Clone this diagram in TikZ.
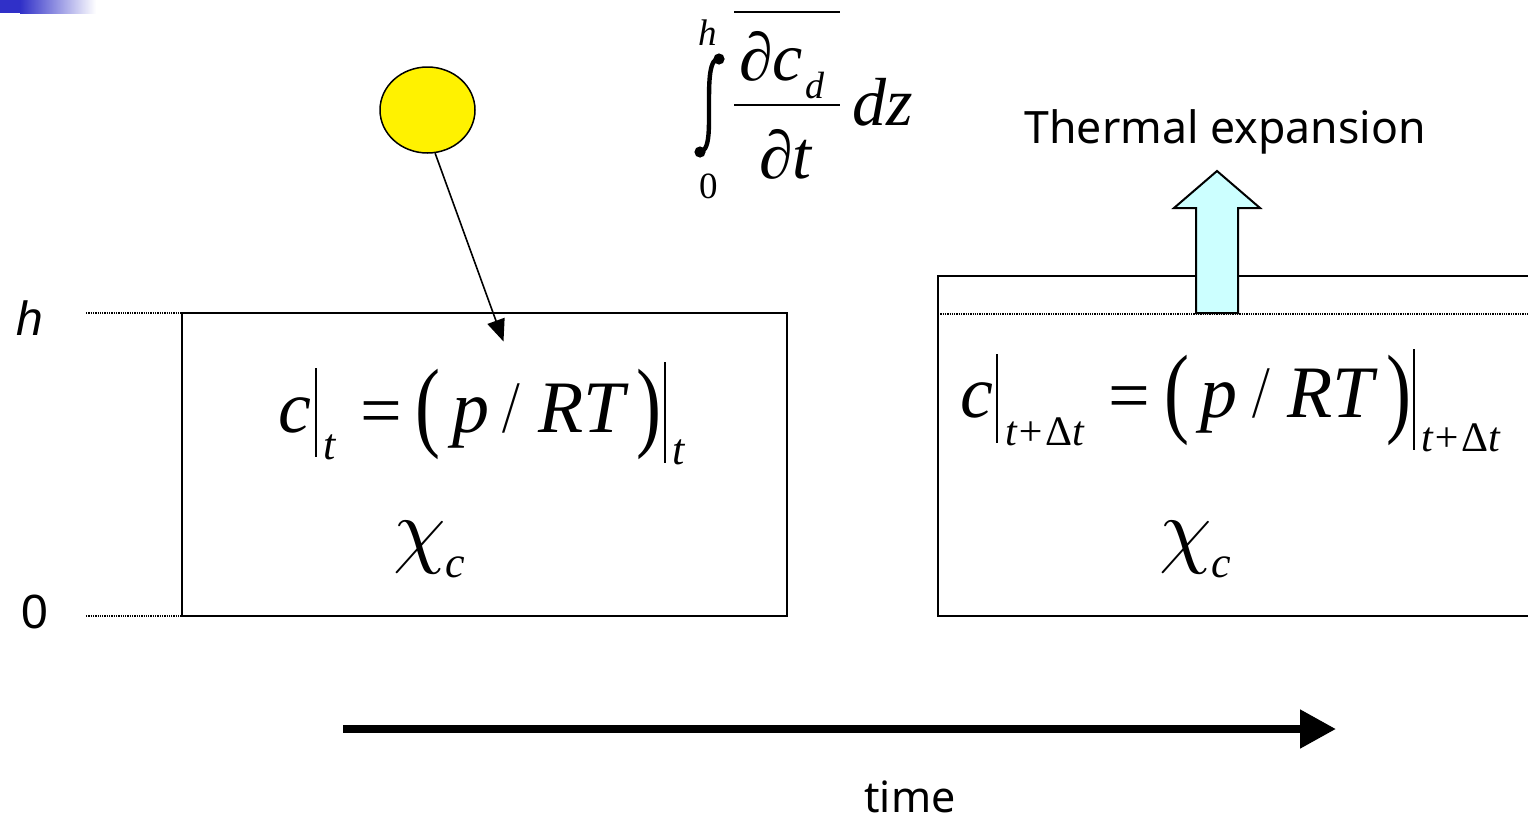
\documentclass[tikz,border=0pt]{standalone}
\usepackage{fontspec}
\setmainfont{Liberation Serif}
\newfontfamily\labelfont{Noto Sans}
\newfontfamily\axisfont{Liberation Sans}
\usetikzlibrary{arrows.meta,positioning,calc,shapes.geometric}
\definecolor{cornerblue}{RGB}{48,48,200}
\definecolor{risecyan}{RGB}{204,255,255}
\newcommand{\thinparen}[1]{\scalebox{.75}[1]{#1}}
\newcommand{\thinslash}{\scalebox{.6}[1]{/}}
\newcommand{\deltat}{\fontsize{42}{42}\selectfont t+{\upshape Δ}t}
\newcommand{\bigchi}{\scalebox{8.4}{$\chi$}}
\tikzset{
  volbox/.style={line width=1.8pt},
  levelline/.style={densely dotted, line width=1.3pt},
  condbar/.style={line width=2.4pt},
  fracbar/.style={line width=2.4pt},
  dropline/.style={-{Triangle[length=22pt,width=18pt]}, line width=1.6pt},
  timeline/.style={-{Triangle[length=36pt,width=37pt]}, line width=8pt},
  risearrow/.style={draw=black, fill=risecyan, line width=2pt, line join=miter},
  fml/.style={anchor=base west, inner sep=0pt, font=\fontsize{74}{74}\selectfont\itshape},
  fmlup/.style={anchor=base west, inner sep=0pt, font=\fontsize{74}{74}\selectfont},
  fmlparen/.style={anchor=base west, inner sep=0pt, font=\fontsize{100}{100}\selectfont},
  fmlsub/.style={anchor=base west, inner sep=0pt, font=\fontsize{44}{44}\selectfont\itshape},
  fmllim/.style={anchor=base west, inner sep=0pt, font=\fontsize{37}{37}\selectfont},
  fmlchi/.style={anchor=base west, inner sep=0pt},
  fmlflux/.style={anchor=base west, inner sep=0pt, font=\fontsize{68}{68}\selectfont\itshape},
  sanslabel/.style={inner sep=0pt, font=\labelfont\fontsize{44.6}{44.6}\selectfont},
  levellabel/.style={inner sep=0pt, font=\axisfont\fontsize{48}{48}\selectfont}
}
\begin{document}
\begin{tikzpicture}[x=1pt,y=-1pt]
  \useasboundingbox (0,0) rectangle (1528,820);
  % corner band
  \fill[cornerblue] (0,0) rectangle (20,13);
  \shade[left color=cornerblue, right color=white, shading angle=90] (20,0) rectangle (96,13);
  % level lines
  \node[levellabel, font=\axisfont\itshape\fontsize{48}{48}\selectfont] (hlabel) at (30,318) {h};
  \node[levellabel] (zerolabel) at (35,612) {0};
  \draw[levelline] (86,313) -- (182,313);
  \draw[levelline] (86,616) -- (182,616);
  \draw[levelline] (938,314) -- (1528,314);
  % boxes
  \draw[volbox] (182,313) rectangle (787,616);
  \draw[volbox] (1528,276) -- (938,276) -- (938,616) -- (1528,616);
  % droplet
  \node[ellipse, draw=black, fill=yellow, line width=1.5pt, minimum width=95pt, minimum height=86pt, inner sep=0pt] (ball) at (427.5,110) {};
  \coordinate (droptip) at (503.5,341.5);
  \draw[dropline] (ball.-80) -- (droptip);
  % flux integral
  \draw[line width=4.4pt] (720,58) .. controls (709,58) and (709,80) .. (709,105) .. controls (709,130) and (710,152) .. (699,152);
  \fill (719,59) circle (5.6pt) (700,152) circle (5.6pt);
  \node[fmllim, font=\fontsize{37}{37}\selectfont\itshape] (inth) at (698,45) {h};
  \node[fmllim] (intz) at (699,198) {0};
  \node[fmlflux] (numd) at (739,80) {∂c};
  \node[fmlsub, font=\fontsize{38}{38}\selectfont\itshape] (numsub) at (805,98) {d};
  \node[fmlflux] (dend) at (759,178) {∂t};
  \node[fmlflux] (dz) at (852,125) {dz};
  \draw[fracbar] (734,12) -- (840,12);
  \draw[fracbar] (734,105) -- (840,105);
  % state at t
  \node[fml] (ca) at (278,432) {c};
  \draw[condbar] (316,368) -- (316,457);
  \node[fmlsub] (ta) at (323,459) {t};
  \node[fmlup] (eqa) at (360,435) {=};
  \node[fmlparen] (opa) at (415,438) {\thinparen{(}};
  \node[fml] (pa) at (452,432) {p};
  \node[fml] (sla) at (504,432) {\thinslash};
  \node[fml] (rta) at (538,432) {RT};
  \node[fmlparen] (cpa) at (636,438) {\thinparen{)}};
  \draw[condbar] (665,362) -- (665,463);
  \node[fmlsub] (tb) at (672,464) {t};
  \node[fmlchi] (chia) at (393,557) {\bigchi};
  \node[fmlsub] (chisuba) at (445,577) {c};
  % state at t + dt
  \node[fml] (cb) at (960,417) {c};
  \draw[condbar] (997,354) -- (997,443);
  \node[fmlsub] (tc) at (1005,445) {\deltat};
  \node[fmlup] (eqb) at (1108,420) {=};
  \node[fmlparen] (opb) at (1164,424) {\thinparen{(}};
  \node[fml] (pb) at (1200,417) {p};
  \node[fml] (slb) at (1254,417) {\thinslash};
  \node[fml] (rtb) at (1287,417) {RT};
  \node[fmlparen] (cpb) at (1386,424) {\thinparen{)}};
  \draw[condbar] (1414,349) -- (1414,450);
  \node[fmlsub] (td) at (1421,451) {\deltat};
  \node[fmlchi] (chib) at (1159,557) {\bigchi};
  \node[fmlsub] (chisubb) at (1211,577) {c};
  % expansion
  \draw[risearrow] (1217,171) -- (1260,208) -- (1238,208) -- (1238,313) -- (1196,313) -- (1196,208) -- (1174,208) -- cycle;
  \node[sanslabel] (expand) at (1225,132) {Thermal expansion};
  % time axis
  \coordinate (tstart) at (343,729);
  \coordinate (tend) at (1336,729);
  \draw[timeline] (tstart) -- (tend);
  \node[sanslabel, font=\labelfont\fontsize{43}{43}\selectfont] (timelabel) at (910,797) {time};
\end{tikzpicture}
\end{document}
